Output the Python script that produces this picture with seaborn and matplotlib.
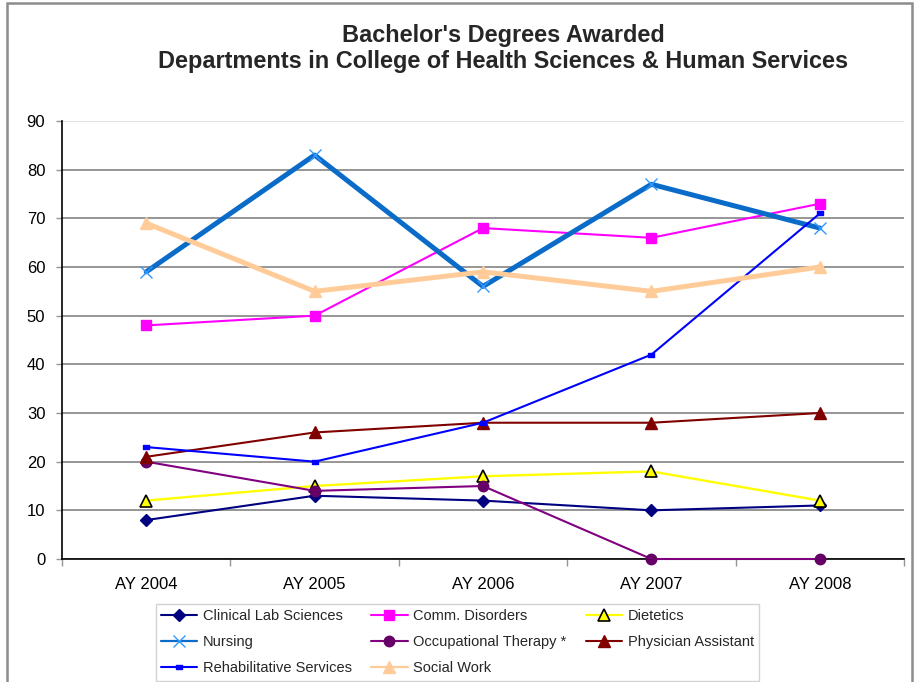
import numpy as np
import pandas as pd
import matplotlib
matplotlib.use("Agg")
import matplotlib.pyplot as plt
from matplotlib.patches import Rectangle
from matplotlib.path import Path
import seaborn as sns

sns.set_theme(style="white")
plt.rcParams["font.family"] = ["Liberation Sans", "DejaVu Sans"]

years = ["AY 2004", "AY 2005", "AY 2006", "AY 2007", "AY 2008"]

clinical_lab = [8, 13, 12, 10, 11]
comm_disorders = [48, 50, 68, 66, 73]
dietetics = [12, 15, 17, 18, 12]
nursing = [59, 83, 56, 77, 68]
occupational_therapy = [20, 14, 15, 0, 0]
physician_assistant = [21, 26, 28, 28, 30]
rehabilitative = [23, 20, 28, 42, 71]
social_work = [69, 55, 59, 55, 60]

series_names = ["Clinical Lab Sciences", "Comm. Disorders", "Dietetics",
                "Nursing", "Occupational Therapy *", "Physician Assistant",
                "Rehabilitative Services", "Social Work"]
series_values = [clinical_lab, comm_disorders, dietetics, nursing,
                 occupational_therapy, physician_assistant, rehabilitative,
                 social_work]

# small flat bar used as the Rehabilitative Services marker
dash_marker = Path([(-1, -0.45), (1, -0.45), (1, 0.45), (-1, 0.45), (-1, -0.45)],
                   [Path.MOVETO, Path.LINETO, Path.LINETO, Path.LINETO, Path.CLOSEPOLY])

styles = {
    "Clinical Lab Sciences": dict(color="#000080", lw=1.5, marker="D", ms=6,
                                  mfc="#000080", mec="#000080"),
    "Comm. Disorders": dict(color="#FF00FF", lw=1.5, marker="s", ms=7,
                            mfc="#FF00FF", mec="#FF00FF"),
    "Dietetics": dict(color="#FFFF00", lw=1.7, marker="^", ms=8,
                      mfc="#FFFF00", mec="#000000", mew=1.2),
    "Nursing": dict(color="#0A6CC8", lw=3.6, marker="x", ms=9,
                    mfc="#3399FF", mec="#3399FF", mew=1.0),
    "Occupational Therapy *": dict(color="#800080", lw=1.5, marker="o", ms=7.5,
                                   mfc="#660066", mec="#660066"),
    "Physician Assistant": dict(color="#800000", lw=1.5, marker="^", ms=8,
                                mfc="#800000", mec="#800000"),
    "Rehabilitative Services": dict(color="#0000FF", lw=1.5, marker=dash_marker,
                                    ms=5, mfc="#0000FF", mec="#0000FF"),
    "Social Work": dict(color="#FFCC99", lw=3.6, marker="^", ms=8,
                        mfc="#FFCC99", mec="#FFCC99"),
}

rows = []
for name, vals in zip(series_names, series_values):
    for i, (yr, v) in enumerate(zip(years, vals)):
        rows.append({"pos": i, "year": yr, "series": name, "value": v})
df = pd.DataFrame(rows)

fig = plt.figure(figsize=(9.14, 6.82), dpi=100)
ax = fig.add_axes([62 / 914, 1 - 559 / 682, (904 - 62) / 914, (559 - 121) / 682])

for name in series_names:
    st = styles[name]
    sub = df[df["series"] == name]
    sns.lineplot(data=sub, x="pos", y="value", ax=ax, label=name,
                 color=st["color"], linewidth=st["lw"], marker=st["marker"],
                 markersize=st["ms"], markerfacecolor=st["mfc"],
                 markeredgecolor=st["mec"], markeredgewidth=st.get("mew", 1.0),
                 clip_on=False, zorder=3)

ax.set_xlim(-0.5, len(years) - 0.5)
ax.set_ylim(0, 90)
ax.set_yticks(np.arange(0, 91, 10))
ax.set_xticks(range(len(years)))
ax.set_xticklabels(years)
ax.set_xticks(np.arange(-0.5, len(years), 1.0), minor=True)
ax.set_xlabel("")
ax.set_ylabel("")

ax.grid(axis="y", color="#969696", linewidth=1.4, zorder=0)
ax.set_axisbelow(True)
ax.get_ygridlines()[-1].set_color("#E2E2E2")

for side in ["top", "right"]:
    ax.spines[side].set_visible(False)
for side in ["left", "bottom"]:
    ax.spines[side].set_color("black")
    ax.spines[side].set_linewidth(1.2)
    ax.spines[side].set_zorder(2)

ax.tick_params(axis="y", which="major", left=True, length=4, width=1,
               color="#969696", labelsize=12, pad=8, labelcolor="black")
ax.tick_params(axis="x", which="major", bottom=False, length=0, labelsize=12,
               pad=13, labelcolor="black")
ax.tick_params(axis="x", which="minor", bottom=True, length=5, width=1,
               color="#969696")

fig.text(503 / 914, 1 - 48.5 / 682,
         "Bachelor's Degrees Awarded\nDepartments in College of Health Sciences & Human Services",
         ha="center", va="center", fontsize=16.9, fontweight="bold",
         linespacing=1.2)

if ax.legend_:
    ax.legend_.remove()
handles, labels = ax.get_legend_handles_labels()
# legend is filled column by column, so order entries to read across rows
ncol = 3
order = [i for c in range(ncol) for i in range(c, len(labels), ncol)]
leg = fig.legend([handles[i] for i in order], [labels[i] for i in order],
                 ncol=ncol, loc="center",
                 bbox_to_anchor=(457.5 / 914, 1 - 642 / 682),
                 fontsize=10.5, frameon=True, fancybox=False,
                 edgecolor="#C8C8C8", handlelength=2.5, handletextpad=0.4,
                 columnspacing=1.3, labelspacing=0.85, borderpad=0.35,
                 borderaxespad=0)
leg.get_frame().set_linewidth(1.0)
for line in leg.get_lines():
    line.set_linewidth(min(line.get_linewidth(), 1.6))

# outer chart frame
fig.patches.append(Rectangle((7.5 / 914, -0.05), (912 - 7.5) / 914,
                             1.05 - 2.5 / 682, transform=fig.transFigure,
                             fill=False, edgecolor="#8C8C8C", linewidth=1.8))

fig.savefig("out.png", dpi=100)
